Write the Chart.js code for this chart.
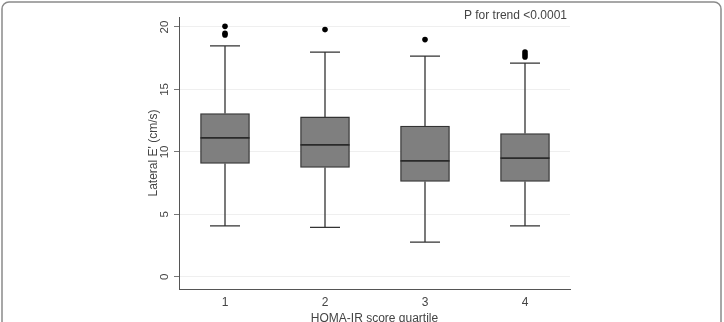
<!DOCTYPE html>
<html>
<head>
<meta charset="utf-8">
<script src="https://cdn.jsdelivr.net/npm/chart.js@4.4.1/dist/chart.umd.min.js"></script>
<style>
  html, body { margin: 0; padding: 0; background: #fff; }
  #wrap { width: 724px; height: 322px; position: relative; }
</style>
</head>
<body>
<div id="wrap"><canvas id="c" width="724" height="322"></canvas></div>
<script>
// ---- data ----
const categories = [1, 2, 3, 4];
const categoryLabels = ['1', '2', '3', '4'];
const q1 = [9.07, 8.75, 7.63, 7.63];
const medians = [11.12, 10.56, 9.28, 9.50];
const q3 = [13.07, 12.80, 12.06, 11.47];
const whiskerLow = [4.08, 3.95, 2.78, 4.08];
const whiskerHigh = [18.48, 17.98, 17.66, 17.10];
const outliers = [[20.05, 19.50, 19.36], [19.79], [18.99], [18.00, 17.79, 17.60]];
const yTickValues = [0, 5, 10, 15, 20];
const yTitle = "Lateral E' (cm/s)";
const xTitle = 'HOMA-IR score quartile';
const annotation = 'P for trend <0.0001';

const FONT = '"Liberation Sans", Arial, sans-serif';
const TEXT = '#444444';
const LINE = '#333333';

const boxData = categories.map((c, i) => ({ x: c, y: [q1[i], q3[i]] }));
const outlierData = [];
categories.forEach((c, i) => outliers[i].forEach(v => outlierData.push({ x: c, y: v })));

const boxPlugin = {
  id: 'boxExtras',
  beforeDraw(chart) {
    const ctx = chart.ctx;
    ctx.save();
    ctx.strokeStyle = '#8a8a8a';
    ctx.lineWidth = 1.5;
    ctx.beginPath();
    ctx.roundRect(2, 2, 719, 340, 7);
    ctx.stroke();
    ctx.restore();
  },
  afterDatasetsDraw(chart) {
    const ctx = chart.ctx;
    const xs = chart.scales.x, ys = chart.scales.y;
    const capHalf = 15, boxHalf = 24.5;
    ctx.save();
    ctx.strokeStyle = LINE;
    ctx.lineWidth = 1.3;
    categories.forEach((c, i) => {
      const x = xs.getPixelForValue(c);
      const yq1 = ys.getPixelForValue(q1[i]);
      const yq3 = ys.getPixelForValue(q3[i]);
      const ylo = ys.getPixelForValue(whiskerLow[i]);
      const yhi = ys.getPixelForValue(whiskerHigh[i]);
      const ymed = ys.getPixelForValue(medians[i]);
      ctx.beginPath();
      ctx.moveTo(x, yq3); ctx.lineTo(x, yhi);
      ctx.moveTo(x - capHalf, yhi); ctx.lineTo(x + capHalf, yhi);
      ctx.moveTo(x, yq1); ctx.lineTo(x, ylo);
      ctx.moveTo(x - capHalf, ylo); ctx.lineTo(x + capHalf, ylo);
      ctx.stroke();
      ctx.save();
      ctx.lineWidth = 1.6;
      ctx.strokeStyle = '#2a2a2a';
      ctx.beginPath();
      ctx.moveTo(x - boxHalf, ymed); ctx.lineTo(x + boxHalf, ymed);
      ctx.stroke();
      ctx.restore();
    });
    ctx.restore();
  },
  afterDraw(chart) {
    const ctx = chart.ctx;
    const ys = chart.scales.y;
    ctx.save();
    ctx.fillStyle = TEXT;
    ctx.font = '11.5px ' + FONT;
    ctx.textAlign = 'center';
    ctx.textBaseline = 'middle';
    yTickValues.forEach(v => {
      const y = ys.getPixelForValue(v);
      ctx.save();
      ctx.translate(165, y);
      ctx.rotate(-Math.PI / 2);
      ctx.fillText(String(v), 0, 0);
      ctx.restore();
    });
    ctx.font = '12px ' + FONT;
    ctx.textAlign = 'right';
    ctx.fillText(annotation, 567, 16);
    ctx.restore();
  }
};

new Chart(document.getElementById('c'), {
  data: {
    datasets: [
      {
        type: 'bar',
        data: boxData,
        backgroundColor: '#7f7f7f',
        borderColor: LINE,
        borderWidth: 1.3,
        borderSkipped: false,
        barThickness: 49
      },
      {
        type: 'scatter',
        data: outlierData,
        backgroundColor: '#000000',
        borderColor: '#000000',
        pointRadius: 2.8,
        pointBorderWidth: 0
      }
    ]
  },
  options: {
    responsive: false,
    animation: false,
    layout: { padding: { left: 140, right: 154, top: 17, bottom: 0 } },
    plugins: { legend: { display: false }, tooltip: { enabled: false } },
    scales: {
      x: {
        type: 'linear',
        offset: false,
        min: 0.54,
        max: 4.45,
        afterBuildTicks(scale) { scale.ticks = categories.map(v => ({ value: v })); },
        afterFit(scale) { scale.height = 33; },
        grid: { display: false, drawTicks: false, offset: false },
        border: { display: true, color: '#555', width: 1 },
        ticks: {
          padding: 6,
          color: TEXT,
          font: { family: FONT, size: 12 },
          callback(v) { const i = categories.indexOf(v); return i >= 0 ? categoryLabels[i] : ''; }
        },
        title: {
          display: true,
          text: xTitle,
          color: TEXT,
          font: { family: FONT, size: 12, lineHeight: 0.6 },
          padding: 0
        }
      },
      y: {
        type: 'linear',
        min: -0.98,
        max: 20.8,
        afterBuildTicks(scale) { scale.ticks = yTickValues.map(v => ({ value: v })); },
        afterFit(scale) { scale.width = 39; },
        grid: { color: '#efefef', lineWidth: 1, tickColor: '#777', tickLength: 5, drawTicks: true },
        border: { display: true, color: '#555', width: 1 },
        ticks: { display: false },
        title: {
          display: true,
          text: yTitle,
          color: TEXT,
          font: { family: FONT, size: 12 },
          padding: { top: 6, bottom: 0 }
        }
      }
    }
  },
  plugins: [boxPlugin]
});
</script>
</body>
</html>
